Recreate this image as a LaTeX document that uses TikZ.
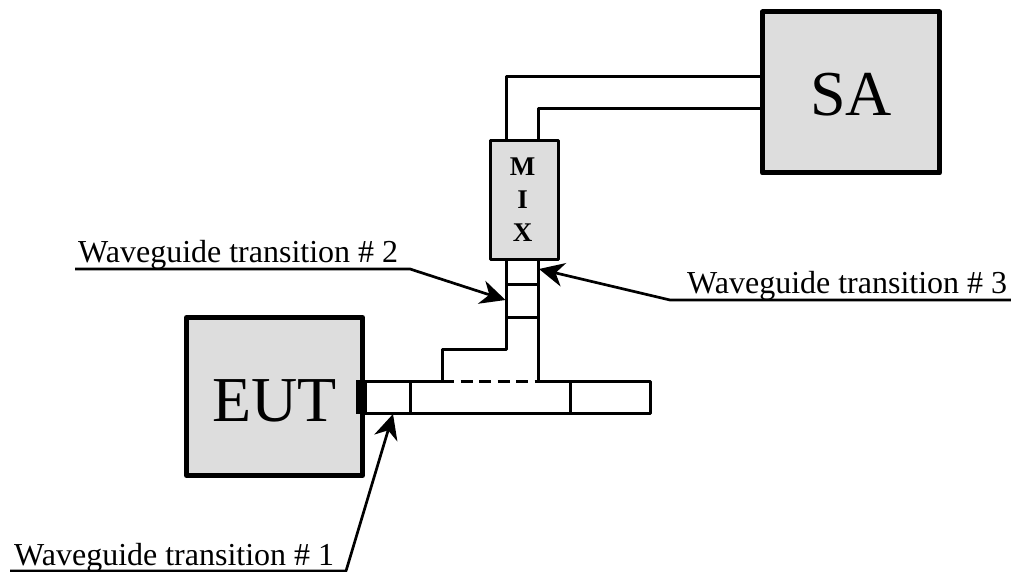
\documentclass[tikz,border=0pt]{standalone}
\usepackage{fontspec}
\setmainfont{Liberation Serif}
\usetikzlibrary{arrows.meta}
\tikzset{
  x=1pt,y=-1pt,
  inst/.style={draw=black,line width=5pt,fill=boxgray,inner sep=0pt,line join=round},
  mixer/.style={draw=black,line width=3pt,fill=boxgray,inner sep=0pt,line join=round},
  mixlab/.style={inner sep=0pt,font=\fontsize{27}{33}\selectfont\bfseries,align=center},
  guide/.style={draw=black,line width=3pt,line join=round},
  leader/.style={draw=black,line width=2.7pt,line join=round,-{Stealth[length=25pt,width=24pt,inset=8pt]}},
  lab/.style={inner sep=0pt,anchor=base west,font=\fontsize{32}{32}\selectfont},
  biglab/.style={inner sep=0pt,anchor=base,font=\fontsize{64}{64}\selectfont}
}
\definecolor{boxgray}{HTML}{DDDDDD}
\begin{document}
\begin{tikzpicture}
\useasboundingbox (0,0) rectangle (1011,572);
% upper guide
\coordinate (u1) at (506,141); \coordinate (u2) at (506,77); \coordinate (u3) at (763,77);
\coordinate (v1) at (538,141); \coordinate (v2) at (538,109); \coordinate (v3) at (763,109);
\draw[guide] (u1) -- (u2) -- (u3);
\draw[guide] (v1) -- (v2) -- (v3);
% lower guide
\coordinate (a1) at (506,259); \coordinate (a2) at (506,349); \coordinate (a3) at (442,349); \coordinate (a4) at (442,381);
\coordinate (b1) at (538,259); \coordinate (b2) at (538,381);
\coordinate (c1) at (506,284.5); \coordinate (c2) at (538,284.5);
\coordinate (d1) at (506,317); \coordinate (d2) at (538,317);
\draw[guide] (a1) -- (a2) -- (a3) -- (a4);
\draw[guide] (b1) -- (b2);
\draw[guide] (c1) -- (c2);
\draw[guide] (d1) -- (d2);
% horizontal guide
\coordinate (h1) at (362,381); \coordinate (h2) at (650,413); \coordinate (h3) at (362,413);
\coordinate (h4) at (650,381);
\coordinate (s1t) at (410,381); \coordinate (s1b) at (410,413);
\coordinate (s2t) at (570,381); \coordinate (s2b) at (570,413);
\draw[guide] (h1) -- (a4);
\draw[guide] (b2) -- (h4) -- (h2) -- (h3);
\draw[guide] (s1t) -- (s1b);
\draw[guide] (s2t) -- (s2b);
\draw[guide,dash pattern=on 12pt off 6.5pt] (a4) -- (b2);
% instruments
\node[inst,minimum width=177pt,minimum height=161pt] (SA) at (851,92.5) {};
\node[biglab] (SAt) at (851,116) {SA};
\node[inst,minimum width=176pt,minimum height=158pt] (EUT) at (274.5,396.5) {};
\node[biglab] (EUTt) at (274.5,421) {EUT};
\node[mixer,minimum width=68pt,minimum height=118pt] (MIX) at (524,200) {};
\node[mixlab] (MIXt) at (522.5,200) {M\\I\\X};
\fill[black] (356,380) rectangle (366.5,414);
% labels and leaders
\node[lab] (L1) at (14,565) {Waveguide transition \# 1};
\node[lab] (L2) at (78,262) {Waveguide transition \# 2};
\node[lab] (L3) at (687,293) {Waveguide transition \# 3};
\coordinate (k1a) at (10,571); \coordinate (k1b) at (346,571); \coordinate (t1) at (393,414);
\coordinate (k2a) at (75,269); \coordinate (k2b) at (410,269); \coordinate (t2) at (505.5,300);
\coordinate (k3a) at (1011,300); \coordinate (k3b) at (670,300); \coordinate (t3) at (539,269);
\draw[leader] (k1a) -- (k1b) -- (t1);
\draw[leader] (k2a) -- (k2b) -- (t2);
\draw[leader] (k3a) -- (k3b) -- (t3);
\end{tikzpicture}
\end{document}
